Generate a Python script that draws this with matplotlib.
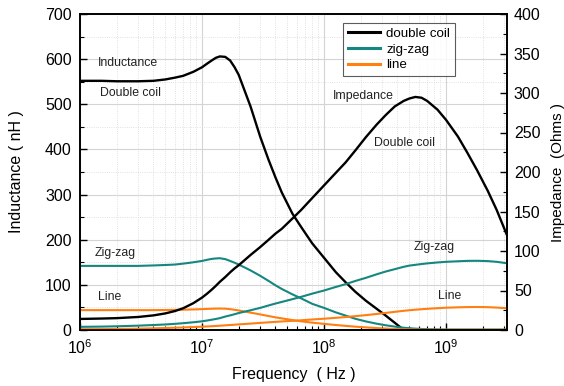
import numpy as np
import matplotlib
matplotlib.use("Agg")
import matplotlib.pyplot as plt
from matplotlib.ticker import MultipleLocator, LogLocator

plt.rcParams['font.family'] = ['Liberation Sans', 'DejaVu Sans']
plt.rcParams['mathtext.fontset'] = 'custom'
plt.rcParams['mathtext.rm'] = 'Liberation Sans'
plt.rcParams['mathtext.default'] = 'regular'

nan = np.nan

# frequency points (Hz)
freq = [1e6, 1.5e6, 2e6, 3e6, 4e6, 5e6, 6e6, 7e6, 8.5e6, 1e7, 1.1e7, 1.2e7,
        1.3e7, 1.4e7, 1.55e7, 1.7e7, 1.85e7, 2e7, 2.5e7, 3e7, 3.5e7, 4e7,
        4.5e7, 5.5e7, 6.5e7, 8e7, 1e8, 1.25e8, 1.5e8, 1.8e8, 2.2e8, 2.7e8,
        3.2e8, 3.8e8, 4.5e8, 5e8, 5.6e8, 6.3e8, 7e8, 8.5e8, 1e9, 1.25e9,
        1.5e9, 1.8e9, 2.2e9, 2.6e9, 3.16e9]

# inductance (nH), left axis
ind_double = [552, 552, 551, 551, 552, 555, 559, 563, 572, 582, 590, 597,
              603, 606, 605, 597, 582, 565, 495, 428, 378, 338,
              305, 258, 228, 192, 160, 128, 106, 85, 65, 47,
              32, 16, 0, nan, nan, nan, nan, nan, nan, nan,
              nan, nan, nan, nan, nan]
ind_zigzag = [142, 142, 142, 142, 143, 144, 145, 147, 150, 153, 155.5, 157.5,
              158.5, 159, 157, 153, 149, 145, 132, 120, 109, 99,
              91, 79, 70, 58, 49, 39, 32, 25, 19, 14,
              10.5, 7.5, 5, 4, 3, 2.3, 1.8, 1.3, 1, 1,
              1, 1, 1, 1, 1]
ind_line = [44, 44, 44, 44, 44, 44.3, 44.6, 45, 45.6, 46.2, 46.7, 47.1,
            47.4, 47.5, 47.2, 46.2, 44.8, 43.3, 38.5, 34.5, 31, 28,
            25.8, 22, 19.2, 16.3, 13.6, 11, 9.2, 7.4, 5.8, 4.3,
            3.2, 2.3, 1.6, 1.3, 1, 0.8, 0.6, 0.6, 0.6, 0.6,
            0.6, 0.6, 0.6, 0.6, 0.6]

# impedance (Ohms), right axis
imp_double = [14, 14.5, 15, 16.5, 18.5, 21, 24, 27.5, 34, 41, 46, 51,
              56, 61, 67, 73, 78, 82, 95, 105, 114, 122,
              128, 141, 152, 167, 183, 199, 212, 227, 244, 260,
              272, 283, 290, 293, 295, 294, 290, 279, 266, 245,
              224, 202, 176, 152, 120]
imp_zigzag = [4, 4.3, 4.7, 5.5, 6.3, 7, 7.8, 8.6, 9.8, 11, 12, 13,
              14, 15, 17, 18.5, 20, 21.5, 25, 28, 31, 33.5,
              35.5, 39, 42, 46, 50, 54.5, 58, 62, 66, 70.5,
              74, 77, 80, 81.5, 82.5, 83.5, 84.3, 85.5, 86.3, 87,
              87.5, 87.6, 87.2, 86.3, 84.5]
imp_line = [1, 1.1, 1.3, 1.7, 2.1, 2.5, 2.9, 3.2, 3.7, 4.2, 4.5, 4.8,
            5.1, 5.4, 5.9, 6.3, 6.7, 7.1, 8.1, 9, 9.7, 10.3,
            10.8, 11.6, 12.3, 13.3, 14.3, 15.4, 16.4, 17.5, 18.8, 20.3,
            21.6, 23, 24.3, 25, 25.7, 26.3, 26.8, 27.6, 28.2, 28.7,
            29, 29.1, 28.9, 28.4, 27.5]

series_names = ['double coil', 'zig-zag', 'line']
colors = ['black', '#16877f', '#ff7f10']

fig = plt.figure(figsize=(5.64, 3.86), dpi=100)
ax = fig.add_axes([80 / 564, 56 / 386, 427 / 564, 316 / 386])
ax2 = ax.twinx()

handles = []
for vals, name, c in zip([ind_double, ind_zigzag, ind_line], series_names, colors):
    h, = ax.plot(freq, vals, color=c, lw=1.7 if c == 'black' else 1.5, label=name,
                 solid_joinstyle='round')
    handles.append(h)
for vals, c in zip([imp_double, imp_zigzag, imp_line], colors):
    ax2.plot(freq, vals, color=c, lw=1.7 if c == 'black' else 1.5,
             solid_joinstyle='round')

ax.set_xscale('log')
ax.set_xlim(1e6, 3.16e9)
ax.set_ylim(0, 700)
ax2.set_ylim(0, 400)

ax.yaxis.set_major_locator(MultipleLocator(100))
ax.yaxis.set_minor_locator(MultipleLocator(50))
ax2.yaxis.set_major_locator(MultipleLocator(50))
ax2.yaxis.set_minor_locator(MultipleLocator(25))
ax.xaxis.set_major_locator(LogLocator(base=10, numticks=10))
ax.xaxis.set_minor_locator(LogLocator(base=10, subs=np.arange(2, 10), numticks=20))

ax.grid(which='major', color='#d4d4d4', lw=0.8)
ax.grid(which='minor', color='#d8d8d8', lw=0.6, ls=':')
ax.set_axisbelow(True)

ax.tick_params(which='both', direction='in', labelsize=11.5, top=False, right=False)
ax.tick_params(which='major', length=5, width=1)
ax.tick_params(which='minor', length=3, width=0.8)
ax.tick_params(axis='y', pad=6)
ax.tick_params(axis='x', pad=6)
ax2.tick_params(which='both', direction='in', labelsize=11.5, pad=5)
ax2.tick_params(which='major', length=5, width=1)
ax2.tick_params(which='minor', length=3, width=0.8)

for a in (ax, ax2):
    for s in a.spines.values():
        s.set_linewidth(1.2)

ax.set_xlabel('Frequency  ( Hz )', fontsize=11.5)
ax.set_ylabel('Inductance ( nH )', fontsize=11.5)
ax2.set_ylabel('Impedance  (Ohms )', fontsize=11)
ax.xaxis.set_label_coords(0.5, -0.117)
ax.yaxis.set_label_coords(-0.132, 0.5)
ax2.yaxis.set_label_coords(1.102, 0.5)

# curve annotations (placed in inductance coordinates)
notes = [('Inductance', 1.4e6, 592), ('Double coil', 1.45e6, 525),
         ('Impedance', 1.18e8, 519), ('Double coil', 2.57e8, 415),
         ('Zig-zag', 1.33e6, 171), ('Line', 1.4e6, 73),
         ('Zig-zag', 5.4e8, 184), ('Line', 8.6e8, 75)]
for txt, x, y in notes:
    ax.text(x, y, txt, fontsize=8.8, va='center', ha='left', color='#222222')

leg = ax2.legend(handles=handles, loc='upper left', bbox_to_anchor=(0.616, 0.972),
                 borderaxespad=0, fontsize=9.6, frameon=True, fancybox=False,
                 handlelength=2.4, handletextpad=0.5, labelspacing=0.25,
                 borderpad=0.35)
leg.get_frame().set_edgecolor('#333333')
leg.get_frame().set_linewidth(0.8)
for line in leg.get_lines():
    line.set_linewidth(2.2)

fig.savefig('out.png', dpi=100)
